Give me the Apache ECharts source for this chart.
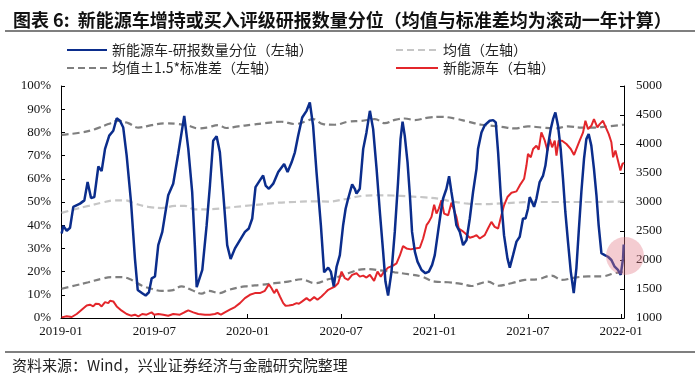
<!DOCTYPE html>
<html>
<head>
<meta charset="utf-8">
<script src="https://cdn.jsdelivr.net/npm/echarts@6/dist/echarts.min.js"></script>
<style>
html,body{margin:0;padding:0;background:#fff;}
#c{width:700px;height:381px;}
</style>
</head>
<body>
<div id="c"></div>
<script>
// x values: months since 2019-01
const xTickLabels = ['2019-01','2019-07','2020-01','2020-07','2021-01','2021-07','2022-01'];
const leftTicks = ['0%','10%','20%','30%','40%','50%','60%','70%','80%','90%','100%'];

const quantile = [
[0.04,36.4],[0.15,39.7],[0.37,37.6],[0.58,38.9],[0.79,47.9],[0.9,48.6],[1.22,49.3],[1.5,50.7],[1.71,58.6],[1.93,51.7],
[2.14,52.1],[2.4,65.3],[2.61,63.3],[2.83,72.9],[3.1,78.6],[3.36,80.7],[3.58,86.1],[3.79,85],[4.0,82.1],[4.22,70],
[4.5,50],[4.75,25.7],[4.93,12.1],[5.22,10.7],[5.44,9.7],[5.65,11.1],[5.83,17.1],[6.04,17.9],[6.25,31.4],[6.51,37.1],
[6.68,44.3],[6.89,52.9],[7.21,57.9],[7.53,70.7],[7.92,87.1],[8.18,72.9],[8.43,54.3],[8.61,30],[8.72,13.3],[9.08,20.7],
[9.36,40],[9.57,57.1],[9.78,76.4],[10.0,78.3],[10.21,71.4],[10.42,54.3],[10.68,31.4],[10.9,25.4],[11.18,30],[11.5,33.6],
[11.82,37.1],[12.07,38.6],[12.29,42.9],[12.5,56.4],[12.78,59.3],[12.99,61.4],[13.15,57.1],[13.36,55.7],[13.64,57.9],[13.96,62.9],
[14.34,66.4],[14.56,62.9],[14.82,67.1],[15.03,71.4],[15.24,78.6],[15.5,86.4],[15.78,89.3],[15.99,92.9],[16.2,82.9],[16.42,62.9],
[16.7,40],[16.91,19.7],[17.17,21.7],[17.34,20],[17.53,13.6],[17.71,22.1],[17.92,27.1],[18.13,40],[18.29,47.1],[18.45,51.4],
[18.71,57.6],[18.88,55.7],[18.99,53.6],[19.2,55.7],[19.42,72.9],[19.63,80],[19.85,89.3],[20.06,81.4],[20.28,64.3],[20.49,45.7],
[20.7,28.6],[20.85,15.7],[21.02,9.7],[21.24,20],[21.45,37.1],[21.66,58.6],[21.82,77.1],[21.95,84.6],[22.09,78.6],[22.27,67.1],
[22.42,52.9],[22.56,37.1],[22.74,28.6],[22.91,24.3],[23.17,20.7],[23.42,19.3],[23.64,20],[23.85,22.9],[24.02,27.1],[24.23,37.1],
[24.41,45.7],[24.55,51.4],[24.77,55.7],[24.94,61.1],[25.09,54.3],[25.26,47.1],[25.41,40],[25.63,37.1],[25.84,31.4],[26.06,33.6],
[26.27,42.9],[26.48,54.3],[26.7,64.3],[26.8,72.9],[27.02,80],[27.23,83.1],[27.55,85],[27.77,85.3],[27.94,84.3],[28.09,71.4],
[28.26,52.9],[28.47,35.7],[28.69,25.7],[28.84,21.7],[29.05,27.1],[29.27,32.9],[29.48,35],[29.69,42.9],[29.85,42.9],[30.01,47.1],
[30.12,52.1],[30.27,50],[30.4,47.9],[30.55,51.4],[30.76,58.6],[30.98,61.4],[31.13,65.7],[31.3,74.3],[31.47,81.4],[31.62,85.7],
[31.77,88.6],[31.94,82.9],[32.11,72.9],[32.26,60],[32.41,45.7],[32.58,32.9],[32.76,20],[32.95,10.7],[33.12,21.4],[33.27,37.1],
[33.44,54.3],[33.61,68.6],[33.76,77.1],[33.91,79.3],[34.08,74.3],[34.25,64.3],[34.41,52.9],[34.55,40],[34.73,27.9],[34.94,27.1],
[35.15,26.4],[35.37,25],[35.58,22.1],[35.79,20.7],[35.97,18.6],[36.12,25.7],[36.16,31.7]
];

const meanLine = [
[0.04,45.3],[0.9,46.9],[1.76,48.3],[2.61,49.7],[3.47,50.7],[4.11,50.7],[4.75,49.3],[5.61,47.9],[6.47,47.4],[7.32,48.3],
[7.96,48.3],[8.61,46.8],[9.68,46.9],[10.75,47.6],[11.82,48.3],[12.89,49],[13.96,49.7],[15.03,50],[16.1,50.3],[17.17,50.2],
[18.24,51.2],[19.31,52.6],[20.3,52.9],[21.3,52.8],[22.4,52.4],[23.4,52],[24.3,51.4],[25.09,50.3],[26.17,49.3],[27.23,49.1],
[28.3,49.4],[29.16,49.7],[30.44,50],[31.73,50],[33.01,50],[34.29,50],[36.18,50.3]
];

const upperBand = [
[0.04,78.9],[1.33,80],[2.19,81.4],[3.04,83.6],[3.68,85],[4.32,84],[4.97,82.1],[5.82,83.1],[6.68,83.9],[7.53,83.6],
[8.18,82.9],[8.82,81.7],[9.4,82.1],[10.1,83.1],[10.64,81.9],[11.39,82.6],[12.24,83.3],[13.1,84],[14.17,84.6],[15.03,83.6],
[15.67,84.6],[16.2,85.7],[16.84,83.6],[17.6,83.3],[18.45,84.6],[19.31,85],[20.17,85.7],[20.81,84],[21.45,85.4],[22.09,86],
[22.74,85.3],[23.6,86.4],[24.45,86.7],[25.31,86],[26.17,84.6],[27.02,83.3],[27.6,82.9],[28.3,82.4],[29.16,81.7],[30.01,82.6],
[30.87,82.1],[31.73,81.7],[32.58,82.6],[33.44,82.1],[34.29,82.1],[35.15,82.6],[36.18,83.3]
];

const lowerBand = [
[0.04,12.6],[0.9,14],[1.76,15.4],[2.61,16.9],[3.25,17.6],[3.9,17.6],[4.54,16.4],[5.18,14],[5.82,12.6],[6.47,11.7],
[7.11,11.9],[7.75,13.6],[8.39,12.1],[9.04,10.5],[9.46,11.7],[10.21,10.7],[10.75,12.1],[11.82,13.6],[12.89,14.3],[13.74,15],
[14.6,15.7],[15.46,16.7],[16.31,15],[17.17,16.7],[17.9,17.9],[18.45,19.3],[19.52,21.1],[20.81,20.3],[21.45,19.7],[22.31,18.9],
[23.17,17.9],[24.02,15.7],[24.88,15.4],[25.73,14.7],[26.38,13.8],[26.9,14.8],[27.44,15.7],[28.09,13.9],[28.95,15],[29.8,16.4],
[30.66,16.7],[31.52,18.3],[32.16,16.4],[33.01,17.4],[33.87,17.9],[34.72,17.9],[35.58,19.3],[36.18,20]
];

const nevSales = [
[0.04,1011],[0.37,1029],[0.69,1017],[1.01,1069],[1.33,1143],[1.65,1217],[1.86,1229],[2.07,1200],[2.23,1246],[2.44,1240],
[2.61,1200],[2.83,1274],[3.04,1257],[3.15,1297],[3.36,1286],[3.58,1200],[3.9,1126],[4.22,1069],[4.5,1040],[4.75,1057],
[4.97,1029],[5.22,1069],[5.5,1057],[5.82,1097],[5.99,1057],[6.25,1069],[6.57,1057],[6.89,1040],[7.21,1069],[7.64,1057],
[7.96,1103],[8.18,1131],[8.5,1097],[8.82,1069],[9.25,1057],[9.57,1057],[9.89,1069],[10.06,1086],[10.28,1057],[10.53,1097],
[10.85,1143],[11.18,1189],[11.5,1257],[11.82,1343],[12.14,1400],[12.46,1429],[12.78,1429],[13.1,1469],[13.36,1583],[13.53,1514],
[13.7,1429],[13.85,1497],[14.07,1371],[14.28,1257],[14.43,1211],[14.64,1217],[14.92,1229],[15.14,1257],[15.29,1246],[15.5,1286],
[15.78,1343],[15.99,1297],[16.27,1360],[16.48,1314],[16.74,1371],[16.96,1429],[17.17,1486],[17.39,1514],[17.6,1543],[17.81,1600],
[18.03,1800],[18.24,1686],[18.45,1657],[18.71,1743],[18.99,1771],[19.2,1714],[19.42,1731],[19.63,1697],[19.85,1743],[20.12,1640],
[20.34,1800],[20.55,1714],[20.76,1800],[21.02,1869],[21.34,1903],[21.56,1943],[21.77,2074],[21.98,2240],[22.2,2200],[22.48,2183],
[22.74,2200],[23.06,2211],[23.27,2371],[23.49,2600],[23.64,2657],[23.81,2743],[23.98,2954],[24.13,2800],[24.28,2886],[24.45,3029],
[24.62,2800],[24.88,2771],[25.09,2989],[25.26,2857],[25.41,2743],[25.56,2543],[25.78,2503],[25.99,2457],[26.27,2383],[26.48,2400],
[26.7,2429],[26.91,2371],[27.23,2429],[27.44,2543],[27.66,2657],[27.87,2571],[28.09,2543],[28.3,2771],[28.47,2943],[28.69,3086],
[28.95,3160],[29.27,3183],[29.48,3286],[29.76,3400],[29.91,3629],[30.01,3829],[30.19,3771],[30.34,3914],[30.55,3971],[30.7,3903],
[30.87,4200],[31.09,4057],[31.26,3886],[31.41,4086],[31.56,3943],[31.73,4057],[31.84,3800],[31.98,4057],[32.2,4057],[32.48,4000],
[32.76,3914],[32.97,3811],[33.12,3914],[33.33,4057],[33.55,4200],[33.7,4400],[33.87,4257],[34.08,4314],[34.25,4429],[34.47,4286],
[34.62,4343],[34.83,4400],[35.01,4286],[35.2,4171],[35.37,4029],[35.48,3771],[35.63,3886],[35.79,3714],[35.95,3543],[36.08,3657],
[36.18,3674]
];

const chart = echarts.init(document.getElementById('c'), null, {renderer:'canvas'});
const serif = '"Liberation Serif","Times New Roman",serif';
const cjk = '"Noto Sans CJK SC","Noto Sans",sans-serif';
const BLUE = '#0b2d8c', RED = '#e3262b', DGRAY = '#7f7f7f', LGRAY = '#c6c6c6';
const hiddenSymbol = {color:'rgba(0,0,0,0)', borderWidth:0, opacity:0};

chart.setOption({
  animation:false,
  backgroundColor:'#fff',
  title:{
    text:'图表 6:  新能源车增持或买入评级研报数量分位（均值与标准差均为滚动一年计算）',
    left:8, top:6,
    textStyle:{fontFamily:cjk, fontSize:18, fontWeight:'bold', color:'#111'}
  },
  legend:[
    {
      data:['新能源车-研报数量分位（左轴）','均值±1.5*标准差（左轴）'],
      orient:'vertical', left:61, top:38, itemGap:4, itemWidth:40, itemHeight:12,
      itemStyle:hiddenSymbol,
      textStyle:{fontFamily:cjk, fontSize:14, color:'#222'}
    },
    {
      data:['均值（左轴）','新能源车（右轴）'],
      orient:'vertical', left:390, top:38, itemGap:4, itemWidth:42, itemHeight:12,
      itemStyle:hiddenSymbol,
      textStyle:{fontFamily:cjk, fontSize:14, color:'#222'}
    }
  ],
  grid:{left:61, right:76, top:86, bottom:63, containLabel:false},
  xAxis:{
    type:'value', min:0, max:36.18, interval:6,
    axisLine:{lineStyle:{color:'#000', width:1}},
    axisTick:{inside:true, length:4, lineStyle:{color:'#000'}},
    axisLabel:{
      margin:7, fontFamily:serif, fontSize:13, color:'#111',
      formatter:function(v){ const k = Math.round(v/6); return Math.abs(v - k*6) < 1e-6 ? (xTickLabels[k]||'') : ''; }
    },
    splitLine:{show:false}
  },
  yAxis:[
    {
      type:'value', min:0, max:100, interval:10,
      axisLine:{show:true, lineStyle:{color:'#000', width:1}},
      axisTick:{show:true, inside:true, length:4, lineStyle:{color:'#000'}},
      axisLabel:{margin:10, fontFamily:serif, fontSize:13, color:'#111',
        formatter:function(v){ return leftTicks[Math.round(v/10)]; }},
      splitLine:{show:false}
    },
    {
      type:'value', min:1000, max:5000, interval:500,
      axisLine:{show:true, lineStyle:{color:'#000', width:1}},
      axisTick:{show:true, inside:true, length:4, lineStyle:{color:'#000'}},
      axisLabel:{margin:12, fontFamily:serif, fontSize:13, color:'#111',
        formatter:function(v){ return String(v); }},
      splitLine:{show:false}
    }
  ],
  series:[
    {name:'均值±1.5*标准差（左轴）', type:'line', yAxisIndex:0, data:upperBand, showSymbol:false, symbol:'none', smooth:0.4,
     lineStyle:{color:DGRAY, width:2.2, type:[7,4]}, itemStyle:{color:DGRAY}, z:2},
    {name:'均值±1.5*标准差（左轴）', type:'line', yAxisIndex:0, data:lowerBand, showSymbol:false, symbol:'none', smooth:0.4,
     lineStyle:{color:DGRAY, width:2.2, type:[7,4]}, itemStyle:{color:DGRAY}, z:2},
    {name:'均值（左轴）', type:'line', yAxisIndex:0, data:meanLine, showSymbol:false, symbol:'none', smooth:0.4,
     lineStyle:{color:LGRAY, width:2.2, type:[7,4]}, itemStyle:{color:LGRAY}, z:2},
    {name:'新能源车（右轴）', type:'line', yAxisIndex:1, data:nevSales, showSymbol:false, symbol:'none',
     lineStyle:{color:RED, width:2}, itemStyle:{color:RED}, z:3},
    {name:'新能源车-研报数量分位（左轴）', type:'line', yAxisIndex:0, data:quantile, showSymbol:false, symbol:'none',
     lineStyle:{color:BLUE, width:2.5}, itemStyle:{color:BLUE}, z:4}
  ],
  graphic:[
    {type:'line', shape:{x1:5, y1:31, x2:695, y2:31}, style:{stroke:'#555', lineWidth:1.5}},
    {type:'line', shape:{x1:5, y1:352, x2:695, y2:352}, style:{stroke:'#555', lineWidth:1.5}},
    {type:'text', left:12, top:358, style:{text:'资料来源：Wind，兴业证券经济与金融研究院整理', font:'15px "Noto Sans CJK SC", sans-serif', fill:'#222'}},
    {type:'circle', shape:{cx:625, cy:256, r:19}, style:{fill:'rgba(225,120,135,0.38)'}, z:100}
  ]
});
</script>
</body>
</html>
